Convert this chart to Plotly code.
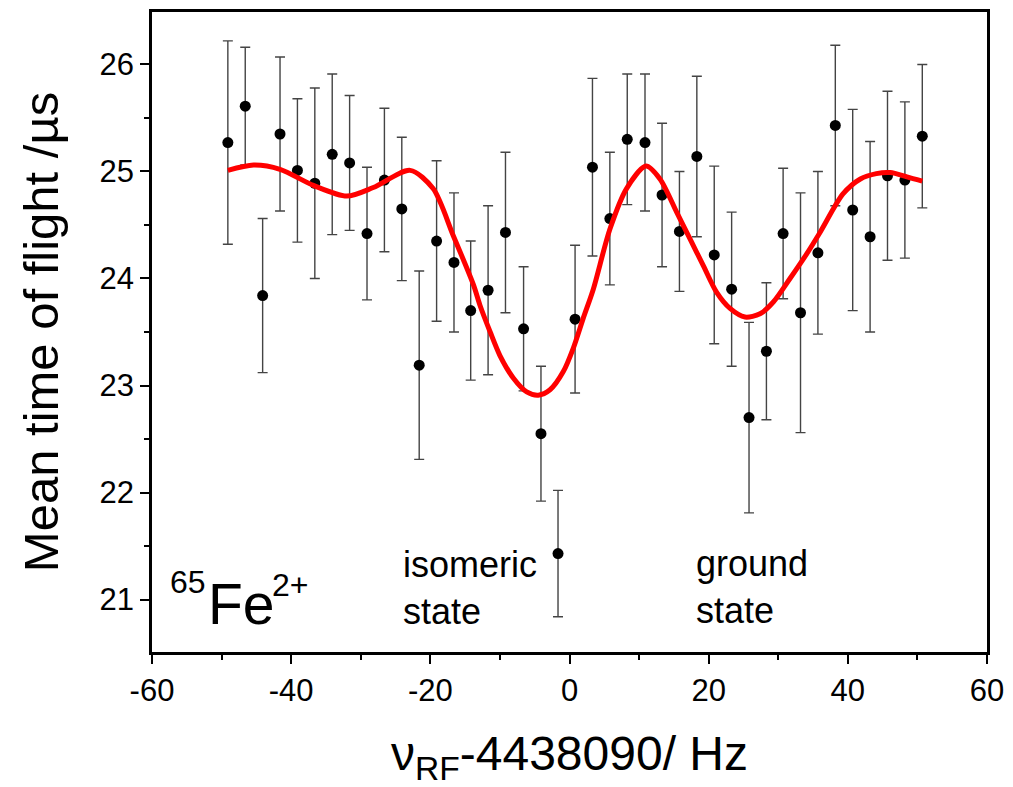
import plotly.graph_objects as go

# ---- data ----
freq = [-49.1, -46.6, -44.1, -41.6, -39.1, -36.6, -34.1, -31.6, -29.1, -26.6,
        -24.1, -21.6, -19.1, -16.6, -14.2, -11.7, -9.2, -6.6, -4.1, -1.65,
        0.8, 3.3, 5.8, 8.3, 10.85, 13.3, 15.8, 18.3, 20.8, 23.3,
        25.8, 28.3, 30.7, 33.2, 35.7, 38.2, 40.7, 43.2, 45.7, 48.2, 50.7]
tof = [25.27, 25.61, 23.84, 25.35, 25.01, 24.89, 25.16, 25.08, 24.42, 24.92,
       24.65, 23.19, 24.35, 24.15, 23.70, 23.89, 24.43, 23.53, 22.55, 21.43,
       23.62, 25.04, 24.56, 25.30, 25.27, 24.78, 24.44, 25.14, 24.22, 23.90,
       22.70, 23.32, 24.42, 23.68, 24.24, 25.43, 24.64, 24.39, 24.96, 24.92, 25.33]
tof_err = [0.95, 0.55, 0.72, 0.72, 0.67, 0.89, 0.75, 0.63, 0.62, 0.67,
           0.67, 0.88, 0.75, 0.65, 0.65, 0.79, 0.75, 0.58, 0.63, 0.59,
           0.69, 0.83, 0.62, 0.61, 0.64, 0.67, 0.56, 0.75, 0.83, 0.72,
           0.89, 0.64, 0.61, 1.12, 0.76, 0.75, 0.94, 0.89, 0.79, 0.73, 0.67]

fit_x = [-49.1, -45.4, -41.6, -36.8, -32.0, -28.2, -22.9, -19.6, -16.7, -13.8,
         -12.87, -11.4, -10.0, -8.08, -6.15, -4.48, -2.80, -0.89, 0.55, 1.98,
         3.42, 5.8, 8.2, 11.0, 13.0, 15.4, 17.32, 19.23, 21.15, 23.07,
         25.22, 27.38, 29.29, 31.69, 34.09, 36.0, 39.3, 41.8, 44.1, 46.1,
         48.5, 50.7]
fit_y = [25.01, 25.06, 25.02, 24.87, 24.77, 24.85, 25.01, 24.84, 24.40, 23.94,
         23.75, 23.50, 23.28, 23.07, 22.94, 22.91, 22.96, 23.13, 23.35, 23.63,
         23.90, 24.46, 24.84, 25.05, 24.93, 24.62, 24.37, 24.12, 23.87, 23.72,
         23.64, 23.67, 23.78, 24.00, 24.23, 24.43, 24.79, 24.93, 24.98, 24.99,
         24.95, 24.91]

x_ticks = [-60, -40, -20, 0, 20, 40, 60]
y_ticks = [21, 22, 23, 24, 25, 26]

FONT = "Liberation Sans, Arial, Helvetica, sans-serif"

fig = go.Figure()
fig.add_trace(go.Scatter(
    x=freq, y=tof, mode="markers",
    marker=dict(color="black", size=11),
    error_y=dict(type="data", array=tof_err, visible=True,
                 color="#444444", thickness=1.4, width=5),
    showlegend=False,
))
fig.add_trace(go.Scatter(
    x=fit_x, y=fit_y, mode="lines",
    line=dict(color="#ff0000", width=5, shape="spline", smoothing=0.8),
    showlegend=False,
))

fig.update_layout(
    width=1013, height=787,
    margin=dict(l=152, r=26, t=9, b=135),
    paper_bgcolor="white", plot_bgcolor="white",
    font=dict(family=FONT, color="black"),
    xaxis=dict(
        range=[-60, 60], tickvals=x_ticks, ticktext=[str(v) for v in x_ticks],
        ticks="outside", ticklen=9, tickwidth=2, tickcolor="black",
        minor=dict(dtick=10, ticks="outside", ticklen=5, tickwidth=2, tickcolor="black"),
        showline=True, linecolor="black", linewidth=2.5, mirror=True,
        showgrid=False, zeroline=False,
        tickfont=dict(size=31, family=FONT),
        title=dict(text="ν<sub>RF</sub>-4438090/ Hz", font=dict(size=48, family=FONT), standoff=31),
    ),
    yaxis=dict(
        range=[20.51, 26.49], tickvals=y_ticks, ticktext=[str(v) for v in y_ticks],
        ticks="outside", ticklen=9, tickwidth=2, tickcolor="black",
        minor=dict(dtick=0.5, ticks="outside", ticklen=5, tickwidth=2, tickcolor="black"),
        showline=True, linecolor="black", linewidth=2.5, mirror=True,
        showgrid=False, zeroline=False,
        tickfont=dict(size=31, family=FONT),
        title=dict(text="Mean time of flight /µs", font=dict(size=49, family=FONT), standoff=26),
    ),
)

annots = [
    dict(x=-57.6, y=21.16, text="65", size=32),
    dict(x=-52.1, y=20.955, text="Fe", size=57),
    dict(x=-42.9, y=21.14, text="2+", size=32),
    dict(x=-24.1, y=21.11, text="isomeric<br>state", size=36),
    dict(x=18.0, y=21.12, text="ground<br>state", size=36),
]
for a in annots:
    fig.add_annotation(x=a["x"], y=a["y"], xref="x", yref="y", text=a["text"],
                       showarrow=False, xanchor="left", yanchor="middle", align="left",
                       font=dict(size=a["size"], family=FONT, color="black"),
                       borderpad=0)

fig.write_html("out.html")
